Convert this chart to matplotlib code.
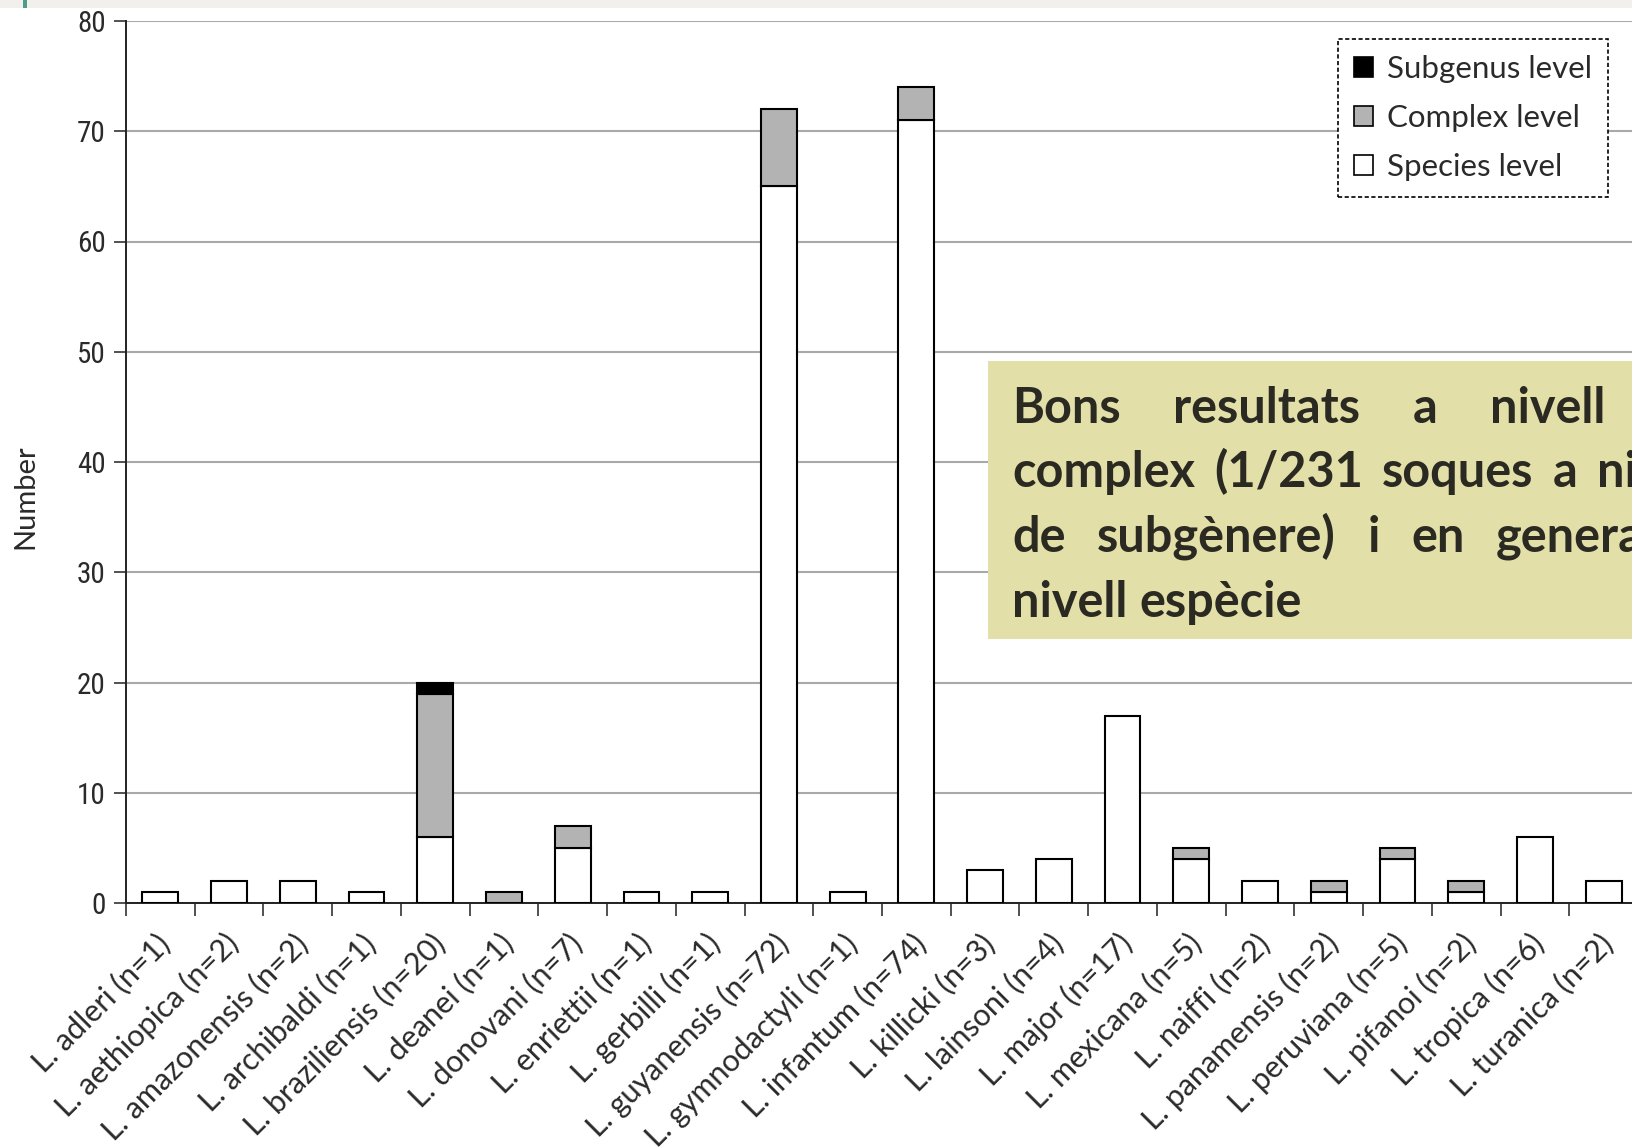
import matplotlib
matplotlib.use("Agg")
import matplotlib.pyplot as plt
from matplotlib import font_manager
from matplotlib.patches import Patch, Rectangle
import matplotlib.transforms as mtransforms
import numpy as np

# ---- data -------------------------------------------------------------
species_names = [
    "L. adleri", "L. aethiopica", "L. amazonensis", "L. archibaldi",
    "L. braziliensis", "L. deanei", "L. donovani", "L. enriettii",
    "L. gerbilli", "L. guyanensis", "L. gymnodactyli", "L. infantum",
    "L. killicki", "L. lainsoni", "L. major", "L. mexicana", "L. naiffi",
    "L. panamensis", "L. peruviana", "L. pifanoi", "L. tropica", "L. turanica",
]
n_strains = [1, 2, 2, 1, 20, 1, 7, 1, 1, 72, 1, 74, 3, 4, 17, 5, 2, 2, 5, 2, 6, 2]
species_level = [1, 2, 2, 1, 6, 0, 5, 1, 1, 65, 1, 71, 3, 4, 17, 4, 2, 1, 4, 1, 6, 2]
complex_level = [0, 0, 0, 0, 13, 1, 2, 0, 0, 7, 0, 3, 0, 0, 0, 1, 0, 1, 1, 1, 0, 0]
subgenus_level = [0, 0, 0, 0, 1, 0, 0, 0, 0, 0, 0, 0, 0, 0, 0, 0, 0, 0, 0, 0, 0, 0]
y_ticks = [0, 10, 20, 30, 40, 50, 60, 70, 80]
legend_labels = ["Subgenus level", "Complex level", "Species level"]
note_lines = [
    "Bons resultats a nivell de",
    "complex (1/231 soques a nivell",
    "de subgènere) i en general a",
    "nivell espècie",
]

# ---- fonts ------------------------------------------------------------
def pick_font(candidates):
    for name in candidates:
        try:
            font_manager.findfont(name, fallback_to_default=False)
            return name
        except Exception:
            continue
    return "DejaVu Sans"

narrow_font = pick_font(["Liberation Sans Narrow", "Roboto Condensed", "Liberation Sans"])
label_font = pick_font(["Lato", "Open Sans", "DejaVu Sans"])
note_font = pick_font(["Lato", "Roboto", "DejaVu Sans"])

# ---- figure geometry (pixels) -----------------------------------------
W, H, DPI = 1633, 1148, 100
fig = plt.figure(figsize=(W / DPI, H / DPI), dpi=DPI, facecolor="white")

def fx(px):
    return px / W

def fy(py):  # py measured from top
    return 1 - py / H

ax_left, ax_right, ax_top, ax_bottom = 126, 1638, 21, 903
ax = fig.add_axes([fx(ax_left), fy(ax_bottom), fx(ax_right - ax_left),
                   (ax_bottom - ax_top) / H])

x = np.arange(len(species_names))
sp = np.array(species_level, dtype=float)
cx = np.array(complex_level, dtype=float)
sg = np.array(subgenus_level, dtype=float)
bar_w = 0.52
edge_kw = dict(edgecolor="black", linewidth=1.5, zorder=3, width=bar_w)

m = sp > 0
ax.bar(x[m], sp[m], color="white", **edge_kw)
m = cx > 0
ax.bar(x[m], cx[m], bottom=sp[m], color="#b3b3b3", **edge_kw)
m = sg > 0
ax.bar(x[m], sg[m], bottom=(sp + cx)[m], color="black", **edge_kw)

ax.set_xlim(-0.5, len(species_names) - 0.5)
ax.set_ylim(0, 80)
ax.set_yticks(y_ticks)
ax.set_yticklabels([str(v) for v in y_ticks], fontfamily=narrow_font,
                   fontsize=21, color="#2a2a2a")
ax.tick_params(axis="y", direction="out", length=9, width=1.2, pad=5.5,
               color="#333333")

ax.set_xticks(x)
labels = [f"{name} (n={n})" for name, n in zip(species_names, n_strains)]
ax.set_xticklabels(labels, rotation=45, ha="right", va="center",
                   rotation_mode="anchor", fontfamily=label_font,
                   fontsize=22, color="#2a2a2a")
ax.tick_params(axis="x", which="major", length=0, pad=0)
ax.set_xticks(np.arange(-0.5, len(species_names), 1.0), minor=True)
ax.tick_params(axis="x", which="minor", direction="out", length=9, width=1.2,
               color="#333333")
shift = mtransforms.ScaledTranslation(5 / DPI, -36 / DPI, fig.dpi_scale_trans)
for lab in ax.get_xticklabels():
    lab.set_transform(lab.get_transform() + shift)

ax.yaxis.grid(True, color="#a9a9a9", linewidth=1.5)
ax.set_axisbelow(True)
for side in ("top", "right"):
    ax.spines[side].set_visible(False)
for side in ("left", "bottom"):
    ax.spines[side].set_color("#222222")
    ax.spines[side].set_linewidth(1.4)

fig.text(fx(25), fy(497), "Number", rotation=90, ha="center", va="center",
         fontfamily=label_font, fontsize=21, color="#2a2a2a")

# ---- legend -----------------------------------------------------------
handles = [
    Patch(facecolor="black", edgecolor="black", linewidth=1.2),
    Patch(facecolor="#b3b3b3", edgecolor="black", linewidth=1.2),
    Patch(facecolor="white", edgecolor="black", linewidth=1.2),
]
leg = ax.legend(handles, legend_labels, loc="upper right",
                bbox_to_anchor=(fx(1608), fy(39)), bbox_transform=fig.transFigure,
                borderaxespad=0, prop={"family": label_font, "size": 22.5},
                handlelength=0.62, handleheight=0.62, handletextpad=0.45,
                labelspacing=0.68, borderpad=0.5, fancybox=False,
                framealpha=1, facecolor="white", edgecolor="black")
leg.get_frame().set_linewidth(1.2)
leg.get_frame().set_linestyle((0, (2.5, 1.5)))
for t in leg.get_texts():
    t.set_color("#2a2a2a")
leg.set_zorder(5)

# ---- slide decorations ------------------------------------------------
fig.patches.append(Rectangle((0, fy(8)), 1, 8 / H, transform=fig.transFigure,
                             facecolor="#f1f0ec", edgecolor="none", zorder=0))
fig.patches.append(Rectangle((fx(23), fy(8)), fx(4), 8 / H,
                             transform=fig.transFigure, facecolor="#4f9c88",
                             edgecolor="none", zorder=1))

# ---- note box with justified text -------------------------------------
box_l, box_t, box_b = 988, 361, 639
fig.patches.append(Rectangle((fx(box_l), fy(box_b)), fx(W + 200 - box_l),
                             (box_b - box_t) / H, transform=fig.transFigure,
                             facecolor="#e3dfa8", edgecolor="none", zorder=6))

text_left, text_right = 1012, 1712
baselines = [423, 487, 552, 617]
note_kw = dict(fontfamily=note_font, fontweight="bold", fontsize=35,
               color="#2b2a22", ha="left", va="baseline", zorder=7)
renderer = fig.canvas.get_renderer()

def text_width(s):
    t = fig.text(0, 0, s, **note_kw)
    w = t.get_window_extent(renderer=renderer).width
    t.remove()
    return w

space_w = text_width("a a") - 2 * text_width("a")
for i, (line, base) in enumerate(zip(note_lines, baselines)):
    words = line.split(" ")
    widths = [text_width(w) for w in words]
    if i == len(note_lines) - 1 or len(words) == 1:
        gap = space_w
    else:
        gap = (text_right - text_left - sum(widths)) / (len(words) - 1)
    pos = text_left
    for w, wd in zip(words, widths):
        fig.text(fx(pos), fy(base), w, **note_kw)
        pos += wd + gap

fig.savefig("out.png", dpi=DPI, facecolor="white")
